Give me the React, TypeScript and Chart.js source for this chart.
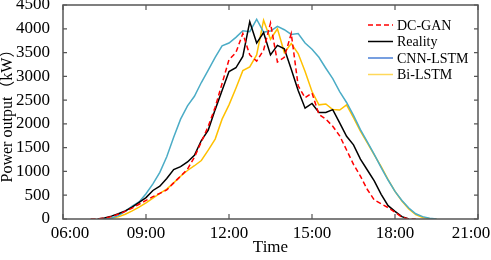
import { useEffect, useRef } from 'react';
import { Chart, registerables } from 'chart.js';

Chart.register(...registerables);

const times = [
  '07:00', '07:15', '07:30', '07:45', '08:00', '08:15', '08:30', '08:45',
  '09:00', '09:15', '09:30', '09:45', '10:00', '10:15', '10:30', '10:45',
  '11:00', '11:15', '11:30', '11:45', '12:00', '12:15', '12:30', '12:45',
  '13:00', '13:15', '13:30', '13:45', '14:00', '14:15', '14:30', '14:45',
  '15:00', '15:15', '15:30', '15:45', '16:00', '16:15', '16:30', '16:45',
  '17:00', '17:15', '17:30', '17:45', '18:00', '18:15', '18:30', '18:45',
  '19:00', '19:15', '19:30',
];

const dcGan = [
  0, 0, 20, 50, 100, 160, 230, 310,
  390, 470, 540, 610, 760, 900, 1050, 1300,
  1620, 1950, 2350, 2850, 3350, 3500, 3900, 3450,
  3320, 3550, 4120, 3300, 3400, 3900, 2800, 2550,
  2650, 2200, 2100, 1950, 1750, 1450, 1150, 900,
  620, 400, 320, 240, 140, 40, 0, 0,
  null, null, null,
];

const reality = [
  null, 0, 20, 60, 110, 170, 250, 350,
  450, 600, 690, 850, 1040, 1100, 1200, 1340,
  1650, 1870, 2300, 2700, 3100, 3180, 3420, 4150,
  3700, 3920, 3450, 3650, 3580, 3150, 2700, 2330,
  2430, 2240, 2240, 2300, 2020, 1740, 1560, 1260,
  1030, 800, 520, 280, 160, 50, 0, null,
  null, null, null,
];

const cnnLstm = [
  null, null, 0, 20, 70, 160, 270, 360,
  530, 740, 980, 1310, 1720, 2100, 2380, 2580,
  2870, 3130, 3400, 3640, 3700, 3820, 3960, 3940,
  4200, 3930, 3950, 4050, 3980, 3880, 3900, 3700,
  3570, 3400, 3170, 2950, 2680, 2450, 2180, 1880,
  1620, 1360, 1080, 820, 580, 390, 230, 110,
  50, 15, 0,
];

const biLstm = [
  null, null, 0, 15, 45, 100, 170, 250,
  340, 440, 540, 630, 760, 900, 1020, 1120,
  1230, 1450, 1680, 2100, 2400, 2750, 3120, 3200,
  3450, 4180, 3780, 4000, 3500, 3690, 3480, 3100,
  2680, 2400, 2420, 2300, 2290, 2400, 2130, 1850,
  1600, 1350, 1100, 830, 580, 380, 210, 90,
  30, 10, 0,
];

const seriesNames = ['DC-GAN', 'Reality', 'CNN-LSTM', 'Bi-LSTM'];
const seriesValues = [dcGan, reality, cnnLstm, biLstm];
const lineColors = ['#ff0000', '#000000', '#4bacc6', '#ffc000'];
const legendColors = ['#ff0000', '#000000', '#4a7fd6', '#ffd85a'];
const lineDashes: number[][] = [[5, 3], [], [], []];

const xTickValues = [6, 9, 12, 15, 18, 21];
const yTickStep = 500;

const SERIF = '"Liberation Serif", "Times New Roman", "Noto Sans CJK SC", serif';

function toHours(t: string): number {
  const [h, m] = t.split(':').map(Number);
  return h + m / 60;
}

function fmtHour(v: number): string {
  return String(v).padStart(2, '0') + ':00';
}

const framePlugin = {
  id: 'frameTicks',
  afterDatasetsDraw(chart: any) {
    const { ctx, chartArea } = chart;
    const { left, right, top, bottom } = chartArea;
    const xs = chart.scales.x;
    const ys = chart.scales.y;
    ctx.save();
    ctx.strokeStyle = '#555555';
    ctx.lineWidth = 1.5;
    ctx.strokeRect(left, top, right - left, bottom - top);
    ctx.lineWidth = 1.2;
    ctx.beginPath();
    for (const v of xTickValues) {
      const px = xs.getPixelForValue(v);
      ctx.moveTo(px, bottom);
      ctx.lineTo(px, bottom - 5);
      ctx.moveTo(px, top);
      ctx.lineTo(px, top + 5);
    }
    for (const t of ys.ticks) {
      const py = ys.getPixelForValue(t.value);
      ctx.moveTo(left, py);
      ctx.lineTo(left + 4, py);
      ctx.moveTo(right, py);
      ctx.lineTo(right - 4, py);
    }
    ctx.stroke();

    // x tick labels
    ctx.fillStyle = '#000';
    ctx.font = '17px ' + SERIF;
    ctx.textAlign = 'center';
    ctx.textBaseline = 'middle';
    xTickValues.forEach((v, i) => {
      let px = xs.getPixelForValue(v);
      if (i === 0) px += 7;
      if (i === xTickValues.length - 1) px -= 7;
      ctx.fillText(fmtHour(v), px, bottom + 15);
    });

    // legend
    ctx.font = '14px ' + SERIF;
    ctx.textAlign = 'left';
    const x0 = right - 110;
    const y0 = top + 20;
    seriesNames.forEach((name, i) => {
      const y = y0 + i * 16.5;
      ctx.beginPath();
      ctx.strokeStyle = legendColors[i];
      ctx.lineWidth = 1.5;
      ctx.setLineDash(lineDashes[i]);
      ctx.moveTo(x0, y);
      ctx.lineTo(x0 + 25, y);
      ctx.stroke();
      ctx.setLineDash([]);
      ctx.fillText(name, x0 + 29, y + 1);
    });
    ctx.restore();
  },
};

export default function App() {
  const ref = useRef<HTMLCanvasElement | null>(null);

  useEffect(() => {
    if (!ref.current) return;
    const hours = times.map(toHours);
    const datasets = seriesNames.map((name, i) => ({
      label: name,
      data: hours
        .map((h, j) => ({ x: h, y: seriesValues[i][j] }))
        .filter((p) => p.y !== null),
      borderColor: lineColors[i],
      backgroundColor: lineColors[i],
      borderWidth: 1.5,
      borderDash: lineDashes[i],
      pointRadius: 0,
      tension: 0,
      fill: false,
    }));

    const chart = new Chart(ref.current, {
      type: 'line',
      data: { datasets: datasets as any },
      options: {
        responsive: false,
        animation: false,
        layout: { padding: { top: 5, right: 13, left: 0, bottom: 0 } },
        plugins: {
          legend: { display: false },
          tooltip: { enabled: false },
        },
        scales: {
          x: {
            type: 'linear',
            min: 6,
            max: 21,
            ticks: { display: false, stepSize: 3 },
            grid: { display: false },
            border: { display: false },
            title: {
              display: true,
              text: 'Time',
              color: '#000',
              font: { family: SERIF, size: 17, lineHeight: 1.2 },
              padding: { top: 0, bottom: 2 },
            },
            afterFit(s: any) {
              s.height = 41;
              s.paddingLeft = 0;
              s.paddingRight = 0;
            },
          },
          y: {
            min: 0,
            max: 4500,
            ticks: {
              stepSize: yTickStep,
              color: '#000',
              padding: 5,
              font: { family: SERIF, size: 17 },
              callback: (v: any) => String(v),
            },
            grid: { display: false },
            border: { display: false },
            title: {
              display: true,
              text: 'Power output（kW）',
              color: '#000',
              font: { family: SERIF, size: 16, lineHeight: 1.0 },
              padding: { top: 0, bottom: 0 },
            },
            afterFit(s: any) {
              s.width = 63;
              s.paddingTop = 0;
              s.paddingBottom = 0;
            },
          },
        },
      },
      plugins: [framePlugin],
    });
    return () => chart.destroy();
  }, []);

  return (
    <div style={{ position: 'fixed', left: 0, top: 0, width: 491, height: 260, background: '#fff' }}>
      <canvas ref={ref} width={491} height={260} />
    </div>
  );
}
